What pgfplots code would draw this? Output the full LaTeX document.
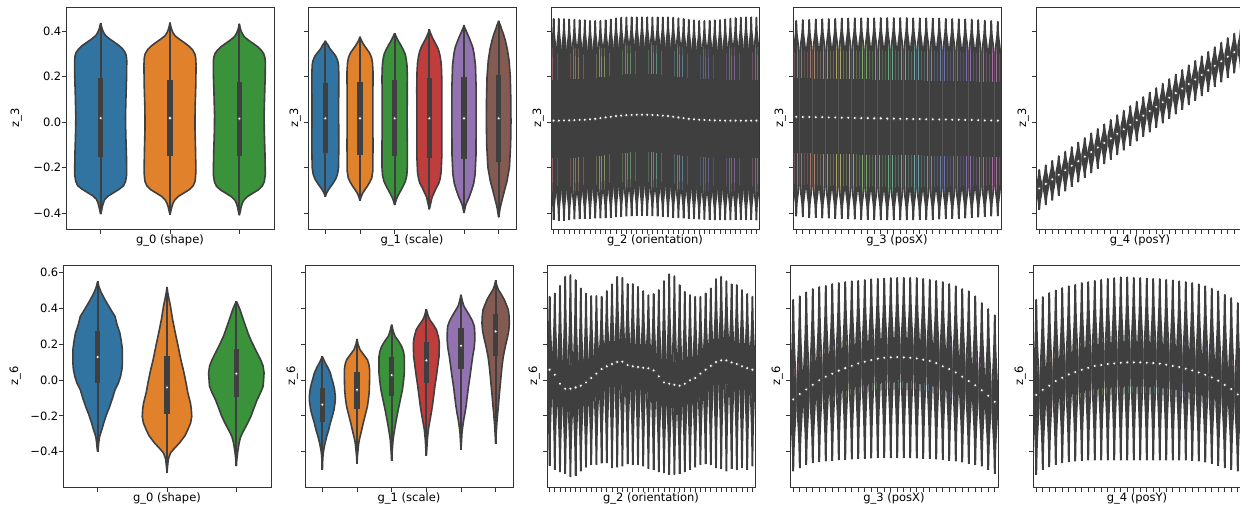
\documentclass[border=0pt]{standalone}
\usepackage{pgfplots}
\pgfplotsset{compat=1.18}
\usepackage{pgfplotstable}
\usepackage{fontspec}
\setmainfont{DejaVu Sans}

\definecolor{vgray}{HTML}{3F3F3F}
\definecolor{c0}{HTML}{3274A1}
\definecolor{c1}{HTML}{E1812C}
\definecolor{c2}{HTML}{3A923A}
\definecolor{c3}{HTML}{C03D3E}
\definecolor{c4}{HTML}{9372B2}
\definecolor{c5}{HTML}{845B53}
\newcommand\fs{\fontsize{11.5bp}{13bp}\selectfont}

% husl-like palettes for the 40 and 32 category panels
\foreach \i in {0,...,39}{\pgfmathsetmacro\h{mod(350+8.4*\i,360)}%
  \edef\tmp{\noexpand\definecolor{tmpc}{Hsb}{\h,0.38,0.72}}\tmp
  \xglobal\colorlet{hA\i}[rgb]{tmpc}}
\foreach \i in {0,...,31}{\pgfmathsetmacro\h{mod(350+10.5*\i,360)}%
  \edef\tmp{\noexpand\definecolor{tmpc}{Hsb}{\h,0.38,0.72}}\tmp
  \xglobal\colorlet{hB\i}[rgb]{tmpc}}

% violin profiles: fraction of the way from median to tip / half width
\def\tplU{0/0.375,0.3/0.385,0.62/0.39,0.70/0.36,0.76/0.28,0.82/0.16,0.87/0.075,0.93/0.03,1/0}
\def\tplUr{1/0,0.93/0.03,0.87/0.075,0.82/0.16,0.76/0.28,0.70/0.36,0.62/0.39,0.3/0.385,0/0.375}
\def\tplG{0/0.40,0.15/0.37,0.3/0.30,0.42/0.22,0.55/0.14,0.7/0.075,0.85/0.035,1/0}
\def\tplGr{1/0,0.85/0.035,0.7/0.075,0.55/0.14,0.42/0.22,0.3/0.30,0.15/0.37,0/0.40}

% ---- outlines of the coloured violins (y, half width) ----
\pgfplotstableread{
y w
-0.405 0
-0.39 0.012
-0.37 0.025
-0.355 0.04
-0.34 0.06
-0.325 0.11
-0.31 0.19
-0.295 0.27
-0.28 0.33
-0.26 0.36
-0.23 0.375
-0.15 0.372
-0.05 0.362
0.02 0.358
0.10 0.364
0.20 0.374
0.27 0.376
0.29 0.37
0.305 0.355
0.32 0.32
0.335 0.27
0.35 0.20
0.365 0.13
0.38 0.07
0.395 0.04
0.41 0.02
0.425 0.008
0.435 0
}\vAa
\pgfplotstableread{
y w
-0.407 0
-0.39 0.013
-0.372 0.027
-0.356 0.045
-0.342 0.07
-0.327 0.12
-0.312 0.20
-0.297 0.28
-0.28 0.335
-0.26 0.362
-0.22 0.374
-0.12 0.368
-0.02 0.36
0.06 0.362
0.16 0.372
0.25 0.376
0.285 0.37
0.30 0.357
0.317 0.325
0.333 0.275
0.348 0.21
0.363 0.14
0.378 0.075
0.393 0.042
0.41 0.02
0.425 0.008
0.437 0
}\vAb
\pgfplotstableread{
y w
-0.41 0
-0.395 0.012
-0.375 0.025
-0.358 0.042
-0.343 0.065
-0.328 0.115
-0.313 0.195
-0.298 0.275
-0.282 0.33
-0.262 0.36
-0.23 0.375
-0.14 0.37
-0.04 0.36
0.03 0.357
0.12 0.365
0.21 0.374
0.265 0.375
0.285 0.368
0.30 0.352
0.315 0.318
0.33 0.268
0.345 0.20
0.36 0.13
0.375 0.07
0.39 0.04
0.405 0.02
0.42 0.008
0.432 0
}\vAc
\pgfplotstableread{
y w
-0.328 0
-0.315 0.03
-0.30 0.08
-0.285 0.15
-0.27 0.22
-0.25 0.30
-0.23 0.35
-0.20 0.38
-0.10 0.39
0.0 0.385
0.10 0.385
0.20 0.39
0.25 0.38
0.27 0.355
0.29 0.30
0.30 0.25
0.315 0.17
0.325 0.12
0.338 0.08
0.348 0.03
0.357 0
}\vBa
\pgfplotstableread{
y w
-0.346 0
-0.33 0.03
-0.315 0.07
-0.30 0.13
-0.285 0.20
-0.265 0.28
-0.245 0.34
-0.215 0.37
-0.10 0.375
0.0 0.37
0.10 0.372
0.22 0.375
0.26 0.36
0.285 0.33
0.305 0.27
0.32 0.20
0.335 0.13
0.35 0.07
0.362 0.03
0.375 0
}\vBb
\pgfplotstableread{
y w
-0.365 0
-0.35 0.03
-0.335 0.06
-0.32 0.11
-0.30 0.18
-0.28 0.25
-0.26 0.31
-0.235 0.35
-0.20 0.365
-0.10 0.365
0.0 0.36
0.10 0.362
0.20 0.365
0.25 0.355
0.28 0.33
0.30 0.30
0.32 0.24
0.34 0.17
0.355 0.11
0.37 0.06
0.38 0.03
0.39 0
}\vBc
\pgfplotstableread{
y w
-0.384 0
-0.37 0.02
-0.35 0.05
-0.33 0.08
-0.31 0.14
-0.29 0.20
-0.27 0.27
-0.25 0.31
-0.22 0.34
-0.15 0.36
0.0 0.36
0.15 0.362
0.22 0.355
0.26 0.34
0.29 0.31
0.31 0.28
0.33 0.23
0.35 0.16
0.37 0.09
0.385 0.05
0.395 0.02
0.407 0
}\vBd
\pgfplotstableread{
y w
-0.40 0
-0.385 0.02
-0.365 0.05
-0.35 0.09
-0.33 0.15
-0.30 0.22
-0.27 0.28
-0.23 0.32
-0.15 0.345
0.0 0.35
0.15 0.35
0.25 0.33
0.30 0.29
0.33 0.25
0.35 0.20
0.37 0.15
0.39 0.09
0.405 0.05
0.415 0.02
0.426 0
}\vBe
\pgfplotstableread{
y w
-0.419 0
-0.40 0.02
-0.38 0.04
-0.36 0.07
-0.33 0.12
-0.30 0.17
-0.26 0.24
-0.20 0.31
-0.10 0.345
0.0 0.355
0.10 0.35
0.20 0.335
0.27 0.30
0.32 0.25
0.36 0.19
0.39 0.13
0.41 0.08
0.425 0.05
0.435 0.02
0.445 0
}\vBf
\pgfplotstableread{
y w
-0.40 0
-0.38 0.008
-0.35 0.015
-0.32 0.025
-0.296 0.043
-0.27 0.065
-0.24 0.087
-0.19 0.13
-0.147 0.174
-0.10 0.215
-0.054 0.25
-0.015 0.30
0.021 0.33
0.06 0.35
0.095 0.357
0.17 0.357
0.22 0.34
0.263 0.32
0.31 0.28
0.356 0.25
0.40 0.18
0.449 0.106
0.49 0.05
0.52 0.02
0.551 0
}\vCa
\pgfplotstableread{
y w
-0.516 0
-0.48 0.008
-0.44 0.02
-0.407 0.05
-0.38 0.11
-0.351 0.18
-0.31 0.26
-0.277 0.30
-0.24 0.34
-0.203 0.357
-0.16 0.35
-0.128 0.338
-0.07 0.30
-0.016 0.275
0.05 0.24
0.114 0.20
0.19 0.16
0.263 0.12
0.34 0.08
0.412 0.05
0.46 0.025
0.49 0.01
0.52 0
}\vCb
\pgfplotstableread{
y w
-0.48 0
-0.44 0.008
-0.40 0.02
-0.351 0.04
-0.32 0.06
-0.296 0.087
-0.25 0.15
-0.203 0.21
-0.15 0.26
-0.11 0.30
-0.07 0.35
-0.034 0.387
0.04 0.40
0.08 0.385
0.114 0.35
0.16 0.29
0.207 0.23
0.25 0.18
0.30 0.135
0.35 0.09
0.393 0.053
0.42 0.025
0.44 0
}\vCc
\pgfplotstableread{
y w
-0.50 0
-0.46 0.008
-0.42 0.02
-0.389 0.04
-0.35 0.08
-0.315 0.125
-0.28 0.18
-0.24 0.23
-0.20 0.29
-0.165 0.337
-0.12 0.37
-0.091 0.375
-0.05 0.35
-0.016 0.31
0.01 0.27
0.04 0.23
0.07 0.16
0.095 0.087
0.115 0.04
0.132 0
}\vDa
\pgfplotstableread{
y w
-0.467 0
-0.43 0.01
-0.389 0.03
-0.36 0.045
-0.333 0.067
-0.29 0.12
-0.24 0.18
-0.19 0.245
-0.147 0.30
-0.10 0.335
-0.054 0.356
0.0 0.362
0.058 0.365
0.09 0.34
0.114 0.30
0.14 0.20
0.17 0.087
0.20 0.03
0.23 0
}\vDb
\pgfplotstableread{
y w
-0.449 0
-0.40 0.015
-0.333 0.04
-0.30 0.065
-0.259 0.10
-0.21 0.145
-0.165 0.19
-0.11 0.25
-0.054 0.31
0.0 0.345
0.04 0.365
0.132 0.365
0.16 0.34
0.188 0.29
0.22 0.19
0.244 0.10
0.27 0.05
0.31 0
}\vDc
\pgfplotstableread{
y w
-0.422 0
-0.38 0.015
-0.33 0.03
-0.277 0.058
-0.24 0.09
-0.203 0.125
-0.15 0.17
-0.091 0.21
-0.03 0.25
0.021 0.29
0.08 0.33
0.132 0.365
0.207 0.375
0.24 0.35
0.282 0.29
0.31 0.20
0.337 0.10
0.36 0.05
0.397 0
}\vDd
\pgfplotstableread{
y w
-0.389 0
-0.34 0.015
-0.29 0.03
-0.259 0.05
-0.22 0.08
-0.184 0.115
-0.14 0.15
-0.091 0.18
-0.03 0.22
0.021 0.26
0.08 0.30
0.132 0.337
0.18 0.38
0.226 0.40
0.27 0.395
0.30 0.385
0.33 0.33
0.356 0.26
0.385 0.17
0.412 0.087
0.44 0.04
0.477 0
}\vDe
\pgfplotstableread{
y w
-0.355 0
-0.30 0.015
-0.25 0.03
-0.184 0.058
-0.14 0.08
-0.091 0.10
-0.03 0.13
0.021 0.154
0.08 0.185
0.132 0.22
0.19 0.28
0.244 0.346
0.28 0.38
0.319 0.395
0.36 0.385
0.393 0.365
0.42 0.31
0.449 0.25
0.48 0.16
0.505 0.077
0.53 0.03
0.557 0
}\vDf

% ---- per-category summaries: tip, quartiles, median, tip ----
\pgfplotstableread{
x lo q1 med q3 hi
0 -0.405 -0.155 0.017 0.193 0.435
1 -0.407 -0.148 0.017 0.184 0.437
2 -0.410 -0.150 0.015 0.178 0.432
}\bAa
\pgfplotstableread{
x lo q1 med q3 hi
0 -0.328 -0.138 0.016 0.170 0.357
1 -0.346 -0.145 0.016 0.177 0.375
2 -0.365 -0.150 0.016 0.185 0.390
3 -0.384 -0.160 0.016 0.192 0.407
4 -0.400 -0.164 0.016 0.200 0.426
5 -0.419 -0.174 0.016 0.207 0.445
}\bAb
\pgfplotstableread{
x lo q1 med q3 hi
0 -0.400 -0.016 0.129 0.276 0.551
1 -0.516 -0.190 -0.041 0.136 0.520
2 -0.480 -0.097 0.036 0.175 0.440
}\bBa
\pgfplotstableread{
x lo q1 med q3 hi
0 -0.500 -0.236 -0.137 -0.044 0.132
1 -0.467 -0.161 -0.054 0.043 0.230
2 -0.449 -0.091 0.028 0.129 0.310
3 -0.422 -0.016 0.110 0.211 0.397
4 -0.389 0.062 0.192 0.291 0.477
5 -0.355 0.132 0.272 0.371 0.557
}\bBb
\pgfplotstableread{
x lo q1 med q3 hi
0 -0.430 -0.159 0.006 0.186 0.453
1 -0.433 -0.159 0.006 0.186 0.454
2 -0.433 -0.158 0.007 0.187 0.453
3 -0.431 -0.158 0.007 0.187 0.451
4 -0.428 -0.157 0.008 0.188 0.450
5 -0.427 -0.156 0.009 0.189 0.448
6 -0.426 -0.155 0.010 0.190 0.447
7 -0.425 -0.153 0.012 0.192 0.445
8 -0.424 -0.151 0.014 0.194 0.445
9 -0.423 -0.148 0.017 0.197 0.445
10 -0.422 -0.145 0.020 0.200 0.447
11 -0.420 -0.142 0.023 0.203 0.451
12 -0.418 -0.139 0.026 0.206 0.456
13 -0.416 -0.137 0.028 0.208 0.459
14 -0.415 -0.135 0.030 0.210 0.460
15 -0.414 -0.134 0.031 0.211 0.460
16 -0.413 -0.133 0.032 0.212 0.460
17 -0.413 -0.133 0.032 0.212 0.460
18 -0.413 -0.133 0.032 0.212 0.460
19 -0.414 -0.134 0.031 0.211 0.460
20 -0.415 -0.135 0.030 0.210 0.460
21 -0.416 -0.137 0.028 0.208 0.460
22 -0.418 -0.139 0.026 0.206 0.460
23 -0.420 -0.142 0.023 0.203 0.459
24 -0.422 -0.145 0.020 0.200 0.456
25 -0.424 -0.148 0.017 0.197 0.453
26 -0.426 -0.151 0.014 0.194 0.450
27 -0.427 -0.153 0.012 0.192 0.447
28 -0.428 -0.155 0.010 0.190 0.445
29 -0.429 -0.156 0.009 0.189 0.445
30 -0.430 -0.157 0.008 0.188 0.445
31 -0.431 -0.158 0.007 0.187 0.447
32 -0.431 -0.158 0.007 0.187 0.448
33 -0.431 -0.159 0.006 0.186 0.451
34 -0.431 -0.159 0.006 0.186 0.454
35 -0.430 -0.159 0.006 0.186 0.457
36 -0.430 -0.159 0.006 0.186 0.459
37 -0.431 -0.159 0.006 0.186 0.460
38 -0.431 -0.159 0.006 0.186 0.460
39 -0.432 -0.159 0.006 0.186 0.459
}\rAc
\pgfplotstableread{
x lo q1 med q3 hi
0 -0.415 -0.137 0.023 0.193 0.445
1 -0.418 -0.138 0.022 0.192 0.448
2 -0.420 -0.138 0.022 0.192 0.449
3 -0.421 -0.139 0.021 0.191 0.451
4 -0.423 -0.139 0.021 0.191 0.452
5 -0.424 -0.140 0.020 0.190 0.453
6 -0.425 -0.140 0.020 0.190 0.454
7 -0.426 -0.141 0.019 0.189 0.455
8 -0.427 -0.141 0.019 0.189 0.455
9 -0.428 -0.142 0.018 0.188 0.456
10 -0.429 -0.143 0.017 0.187 0.456
11 -0.430 -0.143 0.017 0.187 0.456
12 -0.430 -0.144 0.016 0.186 0.456
13 -0.431 -0.144 0.016 0.186 0.457
14 -0.431 -0.145 0.015 0.185 0.457
15 -0.431 -0.145 0.015 0.185 0.457
16 -0.431 -0.146 0.014 0.184 0.457
17 -0.431 -0.146 0.014 0.184 0.457
18 -0.431 -0.147 0.013 0.183 0.456
19 -0.430 -0.147 0.013 0.183 0.456
20 -0.430 -0.148 0.012 0.182 0.456
21 -0.429 -0.148 0.012 0.182 0.455
22 -0.428 -0.149 0.011 0.181 0.455
23 -0.427 -0.149 0.011 0.181 0.454
24 -0.426 -0.150 0.010 0.180 0.453
25 -0.425 -0.150 0.010 0.180 0.452
26 -0.423 -0.151 0.009 0.179 0.451
27 -0.421 -0.151 0.009 0.179 0.450
28 -0.419 -0.152 0.008 0.178 0.448
29 -0.417 -0.153 0.007 0.177 0.446
30 -0.415 -0.153 0.007 0.177 0.444
31 -0.414 -0.154 0.006 0.176 0.441
}\rAd
\pgfplotstableread{
x lo q1 med q3 hi
0 -0.385 -0.328 -0.292 -0.262 -0.210
1 -0.365 -0.308 -0.272 -0.242 -0.190
2 -0.345 -0.288 -0.252 -0.222 -0.170
3 -0.325 -0.268 -0.232 -0.202 -0.150
4 -0.305 -0.248 -0.212 -0.182 -0.130
5 -0.285 -0.228 -0.192 -0.162 -0.110
6 -0.265 -0.208 -0.172 -0.142 -0.090
7 -0.245 -0.188 -0.152 -0.122 -0.070
8 -0.225 -0.168 -0.132 -0.102 -0.050
9 -0.205 -0.148 -0.112 -0.082 -0.030
10 -0.185 -0.128 -0.092 -0.062 -0.010
11 -0.165 -0.108 -0.072 -0.042 0.010
12 -0.145 -0.088 -0.052 -0.022 0.030
13 -0.125 -0.068 -0.032 -0.002 0.050
14 -0.105 -0.048 -0.012 0.018 0.070
15 -0.085 -0.028 0.008 0.038 0.090
16 -0.065 -0.008 0.028 0.058 0.110
17 -0.045 0.012 0.048 0.078 0.130
18 -0.026 0.031 0.067 0.097 0.149
19 -0.006 0.051 0.087 0.117 0.169
20 0.014 0.071 0.107 0.137 0.189
21 0.034 0.091 0.127 0.157 0.209
22 0.054 0.111 0.147 0.177 0.229
23 0.074 0.131 0.167 0.197 0.249
24 0.094 0.151 0.187 0.217 0.269
25 0.114 0.171 0.207 0.237 0.289
26 0.134 0.191 0.227 0.257 0.309
27 0.154 0.211 0.247 0.277 0.329
28 0.174 0.231 0.267 0.297 0.349
29 0.194 0.251 0.287 0.317 0.369
30 0.214 0.271 0.307 0.337 0.389
31 0.234 0.291 0.327 0.357 0.409
}\rAe
\pgfplotstableread{
x lo q1 med q3 hi
0 -0.478 -0.072 0.058 0.188 0.466
1 -0.501 -0.100 0.030 0.160 0.484
2 -0.514 -0.150 -0.020 0.110 0.527
3 -0.523 -0.178 -0.048 0.082 0.578
4 -0.542 -0.178 -0.048 0.082 0.587
5 -0.534 -0.171 -0.041 0.089 0.559
6 -0.510 -0.161 -0.031 0.099 0.512
7 -0.488 -0.143 -0.013 0.117 0.484
8 -0.473 -0.118 0.012 0.142 0.470
9 -0.473 -0.094 0.036 0.166 0.470
10 -0.465 -0.068 0.062 0.192 0.466
11 -0.463 -0.053 0.077 0.207 0.498
12 -0.491 -0.040 0.090 0.220 0.535
13 -0.488 -0.029 0.101 0.231 0.578
14 -0.482 -0.027 0.103 0.233 0.572
15 -0.469 -0.046 0.084 0.214 0.537
16 -0.473 -0.053 0.077 0.207 0.537
17 -0.473 -0.057 0.073 0.203 0.522
18 -0.482 -0.061 0.069 0.199 0.498
19 -0.497 -0.064 0.066 0.196 0.475
20 -0.501 -0.076 0.054 0.184 0.481
21 -0.514 -0.109 0.021 0.151 0.503
22 -0.519 -0.143 -0.013 0.117 0.553
23 -0.528 -0.150 -0.020 0.110 0.591
24 -0.528 -0.156 -0.026 0.104 0.581
25 -0.523 -0.161 -0.031 0.099 0.531
26 -0.514 -0.150 -0.020 0.110 0.494
27 -0.501 -0.131 -0.001 0.129 0.475
28 -0.488 -0.118 0.012 0.142 0.466
29 -0.473 -0.094 0.036 0.166 0.466
30 -0.469 -0.072 0.058 0.188 0.484
31 -0.473 -0.050 0.080 0.210 0.512
32 -0.491 -0.029 0.101 0.231 0.565
33 -0.497 -0.020 0.110 0.240 0.578
34 -0.510 -0.020 0.110 0.240 0.553
35 -0.495 -0.031 0.099 0.229 0.535
36 -0.501 -0.040 0.090 0.220 0.531
37 -0.491 -0.053 0.077 0.207 0.503
38 -0.501 -0.063 0.067 0.197 0.481
39 -0.482 -0.072 0.058 0.188 0.466
}\rBc
\pgfplotstableread{
x lo q1 med q3 hi
0 -0.510 -0.238 -0.108 0.022 0.449
1 -0.491 -0.208 -0.078 0.052 0.468
2 -0.473 -0.182 -0.052 0.078 0.490
3 -0.463 -0.156 -0.026 0.104 0.509
4 -0.458 -0.131 -0.001 0.129 0.520
5 -0.454 -0.111 0.019 0.149 0.527
6 -0.450 -0.094 0.036 0.166 0.537
7 -0.447 -0.077 0.053 0.183 0.542
8 -0.445 -0.063 0.067 0.197 0.548
9 -0.442 -0.050 0.080 0.210 0.552
10 -0.440 -0.037 0.093 0.223 0.555
11 -0.438 -0.027 0.103 0.233 0.559
12 -0.437 -0.018 0.112 0.242 0.563
13 -0.436 -0.010 0.120 0.250 0.566
14 -0.435 -0.005 0.125 0.255 0.568
15 -0.435 -0.003 0.127 0.257 0.570
16 -0.435 -0.001 0.129 0.259 0.572
17 -0.435 -0.003 0.127 0.257 0.572
18 -0.436 -0.005 0.125 0.255 0.572
19 -0.437 -0.009 0.121 0.251 0.570
20 -0.438 -0.016 0.114 0.244 0.566
21 -0.440 -0.023 0.107 0.237 0.561
22 -0.442 -0.035 0.095 0.225 0.555
23 -0.445 -0.053 0.077 0.207 0.548
24 -0.450 -0.068 0.062 0.192 0.537
25 -0.454 -0.087 0.043 0.173 0.524
26 -0.460 -0.111 0.019 0.149 0.509
27 -0.466 -0.135 -0.005 0.125 0.496
28 -0.473 -0.159 -0.029 0.101 0.468
29 -0.482 -0.187 -0.057 0.073 0.431
30 -0.501 -0.217 -0.087 0.043 0.397
31 -0.523 -0.251 -0.121 0.009 0.362
}\rBd
\pgfplotstableread{
x lo q1 med q3 hi
0 -0.528 -0.213 -0.083 0.047 0.449
1 -0.501 -0.184 -0.054 0.076 0.464
2 -0.486 -0.161 -0.031 0.099 0.486
3 -0.473 -0.135 -0.005 0.125 0.501
4 -0.463 -0.117 0.013 0.143 0.514
5 -0.458 -0.098 0.032 0.162 0.524
6 -0.454 -0.085 0.045 0.175 0.533
7 -0.450 -0.072 0.058 0.188 0.542
8 -0.448 -0.061 0.069 0.199 0.548
9 -0.448 -0.051 0.079 0.209 0.555
10 -0.448 -0.046 0.084 0.214 0.561
11 -0.448 -0.040 0.090 0.220 0.566
12 -0.448 -0.037 0.093 0.223 0.570
13 -0.448 -0.033 0.097 0.227 0.574
14 -0.448 -0.031 0.099 0.229 0.574
15 -0.448 -0.031 0.099 0.229 0.572
16 -0.448 -0.031 0.099 0.229 0.570
17 -0.448 -0.033 0.097 0.227 0.568
18 -0.448 -0.035 0.095 0.225 0.566
19 -0.448 -0.038 0.092 0.222 0.565
20 -0.448 -0.044 0.086 0.216 0.561
21 -0.448 -0.051 0.079 0.209 0.557
22 -0.448 -0.057 0.073 0.203 0.552
23 -0.448 -0.066 0.064 0.194 0.548
24 -0.450 -0.076 0.054 0.184 0.542
25 -0.454 -0.087 0.043 0.173 0.535
26 -0.460 -0.100 0.030 0.160 0.524
27 -0.466 -0.115 0.015 0.145 0.511
28 -0.477 -0.133 -0.003 0.127 0.496
29 -0.491 -0.157 -0.027 0.103 0.477
30 -0.501 -0.180 -0.050 0.080 0.459
31 -0.510 -0.210 -0.080 0.050 0.431
}\rBe

% one coloured violin from its outline table: table, centre, colour
\newcommand\hviolin[3]{%
  \addplot[fill=#3, draw=vgray, line width=1.6bp, line join=round] table[x expr=#2+\thisrow{w}, y=y] {#1};
  \addplot[fill=#3, draw=vgray, line width=1.6bp, line join=round] table[x expr=#2-\thisrow{w}, y=y] {#1};
}
% one narrow violin from a summary row: table, row, profile, reversed profile, colour
\newcommand\dviolin[5]{%
  \pgfplotstablegetelem{#2}{x}\of#1\let\vx\pgfplotsretval
  \pgfplotstablegetelem{#2}{lo}\of#1\let\vlo\pgfplotsretval
  \pgfplotstablegetelem{#2}{med}\of#1\let\vmed\pgfplotsretval
  \pgfplotstablegetelem{#2}{hi}\of#1\let\vhi\pgfplotsretval
  \gdef\vpts{}%
  \foreach \u/\w in #4 {\pgfmathsetmacro\py{\vmed+\u*(\vlo-\vmed)}\pgfmathsetmacro\px{\vx+\w}\xdef\vpts{\vpts(\px,\py)}}%
  \foreach \u/\w in #3 {\pgfmathsetmacro\py{\vmed+\u*(\vhi-\vmed)}\pgfmathsetmacro\px{\vx+\w}\xdef\vpts{\vpts(\px,\py)}}%
  \foreach \u/\w in #4 {\pgfmathsetmacro\py{\vmed+\u*(\vhi-\vmed)}\pgfmathsetmacro\px{\vx-\w}\xdef\vpts{\vpts(\px,\py)}}%
  \foreach \u/\w in #3 {\pgfmathsetmacro\py{\vmed+\u*(\vlo-\vmed)}\pgfmathsetmacro\px{\vx-\w}\xdef\vpts{\vpts(\px,\py)}}%
  \edef\vdo{\noexpand\addplot[fill=#5, draw=vgray, line width=1.8bp, line join=round] coordinates {\vpts};}\vdo
}
% whiskers, boxes and medians of a summary table
\newcommand\boxes[1]{%
  \addplot[vgray, only marks, mark=none, error bars/.cd, y dir=both, y explicit, error mark=none,
    error bar style={line width=1.8bp, vgray}]
    table[x=x, y=med, y error plus expr=\thisrow{hi}-\thisrow{med}, y error minus expr=\thisrow{med}-\thisrow{lo}] {#1};
  \addplot[vgray, only marks, mark=none, error bars/.cd, y dir=both, y explicit, error mark=none,
    error bar style={line width=5.2bp, vgray}]
    table[x=x, y=med, y error plus expr=\thisrow{q3}-\thisrow{med}, y error minus expr=\thisrow{med}-\thisrow{q1}] {#1};
  \addplot[only marks, mark=*, mark size=1.75bp, mark options={fill=white, draw=vgray, line width=0.5bp}]
    table[x=x, y=med] {#1};
}

\pgfplotsset{
  vio/.style={scale only axis, width=208bp, height=222bp, anchor=north west,
    xmin=-0.5, xticklabels={},
    axis line style={black!80, line width=0.9bp},
    tick style={black!80, line width=0.9bp},
    tick align=outside, major tick length=4.5bp,
    xtick pos=bottom, ytick pos=left,
    tick label style={font=\fs, black}, label style={font=\fs, black},
    yticklabel style={anchor=east, inner sep=0pt},
    xlabel style={at={(axis description cs:0.5,0)}, anchor=base, inner sep=0pt, yshift=-14bp},
    ylabel style={at={(axis description cs:0,0.5)}, anchor=south, inner sep=0pt},
  },
  row1/.style={ymin=-0.4703, ymax=0.5055, ytick={-0.4,-0.2,0,0.2,0.4}},
  row2/.style={ymin=-0.597, ymax=0.643, ytick={-0.4,-0.2,0,0.2,0.4,0.6}},
}

\begin{document}
\begin{tikzpicture}
\useasboundingbox (0,0) rectangle (1240bp,-506bp);
\clip (0,0) rectangle (1240bp,-506bp);

% ================= row 1 : z_3 =================
\begin{axis}[vio, row1, at={(66bp,-7bp)}, xmax=2.5, xtick={0,1,2},
  yticklabels={−0.4,−0.2,0.0,0.2,0.4},
  xlabel={g\_0 (shape)}, ylabel={z\_3}, ylabel style={yshift=44bp}]
\hviolin{\vAa}{0}{c0}
\hviolin{\vAb}{1}{c1}
\hviolin{\vAc}{2}{c2}
\boxes{\bAa}
\end{axis}

\begin{axis}[vio, row1, at={(308bp,-7bp)}, xmax=5.5, xtick={0,...,5}, yticklabels={},
  xlabel={g\_1 (scale)}, ylabel={z\_3}, ylabel style={yshift=7bp}]
\hviolin{\vBa}{0}{c0}
\hviolin{\vBb}{1}{c1}
\hviolin{\vBc}{2}{c2}
\hviolin{\vBd}{3}{c3}
\hviolin{\vBe}{4}{c4}
\hviolin{\vBf}{5}{c5}
\boxes{\bAb}
\end{axis}

\begin{axis}[vio, row1, at={(551bp,-7bp)}, xmax=39.5, xtick={0,...,39}, yticklabels={},
  xlabel={g\_2 (orientation)}, ylabel={z\_3}, ylabel style={yshift=7bp}]
\pgfplotsinvokeforeach{0,...,39}{\dviolin{\rAc}{#1}{\tplU}{\tplUr}{hA#1}}
\boxes{\rAc}
\end{axis}

\begin{axis}[vio, row1, at={(793bp,-7bp)}, xmax=31.5, xtick={0,...,31}, yticklabels={},
  xlabel={g\_3 (posX)}, ylabel={z\_3}, ylabel style={yshift=7bp}]
\pgfplotsinvokeforeach{0,...,31}{\dviolin{\rAd}{#1}{\tplU}{\tplUr}{hB#1}}
\boxes{\rAd}
\end{axis}

\begin{axis}[vio, row1, at={(1036bp,-7bp)}, xmax=31.5, xtick={0,...,31}, yticklabels={},
  xlabel={g\_4 (posY)}, ylabel={z\_3}, ylabel style={yshift=7bp}]
\pgfplotsinvokeforeach{0,...,31}{\dviolin{\rAe}{#1}{\tplG}{\tplGr}{hB#1}}
\boxes{\rAe}
\end{axis}

% ================= row 2 : z_6 =================
\begin{axis}[vio, row2, at={(63bp,-265bp)}, xmax=2.5, xtick={0,1,2},
  yticklabels={−0.4,−0.2,0.0,0.2,0.4,0.6},
  xlabel={g\_0 (shape)}, ylabel={z\_6}, ylabel style={yshift=42bp}]
\hviolin{\vCa}{0}{c0}
\hviolin{\vCb}{1}{c1}
\hviolin{\vCc}{2}{c2}
\boxes{\bBa}
\end{axis}

\begin{axis}[vio, row2, at={(305bp,-265bp)}, xmax=5.5, xtick={0,...,5}, yticklabels={},
  xlabel={g\_1 (scale)}, ylabel={z\_6}, ylabel style={yshift=7bp}]
\hviolin{\vDa}{0}{c0}
\hviolin{\vDb}{1}{c1}
\hviolin{\vDc}{2}{c2}
\hviolin{\vDd}{3}{c3}
\hviolin{\vDe}{4}{c4}
\hviolin{\vDf}{5}{c5}
\boxes{\bBb}
\end{axis}

\begin{axis}[vio, row2, at={(547bp,-265bp)}, xmax=39.5, xtick={0,...,39}, yticklabels={},
  xlabel={g\_2 (orientation)}, ylabel={z\_6}, ylabel style={yshift=7bp}]
\pgfplotsinvokeforeach{0,...,39}{\dviolin{\rBc}{#1}{\tplG}{\tplGr}{hA#1}}
\boxes{\rBc}
\end{axis}

\begin{axis}[vio, row2, at={(790bp,-265bp)}, xmax=31.5, xtick={0,...,31}, yticklabels={},
  xlabel={g\_3 (posX)}, ylabel={z\_6}, ylabel style={yshift=7bp}]
\pgfplotsinvokeforeach{0,...,31}{\dviolin{\rBd}{#1}{\tplG}{\tplGr}{hB#1}}
\boxes{\rBd}
\end{axis}

\begin{axis}[vio, row2, at={(1033bp,-265bp)}, xmax=31.5, xtick={0,...,31}, yticklabels={},
  xlabel={g\_4 (posY)}, ylabel={z\_6}, ylabel style={yshift=7bp}]
\pgfplotsinvokeforeach{0,...,31}{\dviolin{\rBe}{#1}{\tplG}{\tplGr}{hB#1}}
\boxes{\rBe}
\end{axis}
\end{tikzpicture}
\end{document}
